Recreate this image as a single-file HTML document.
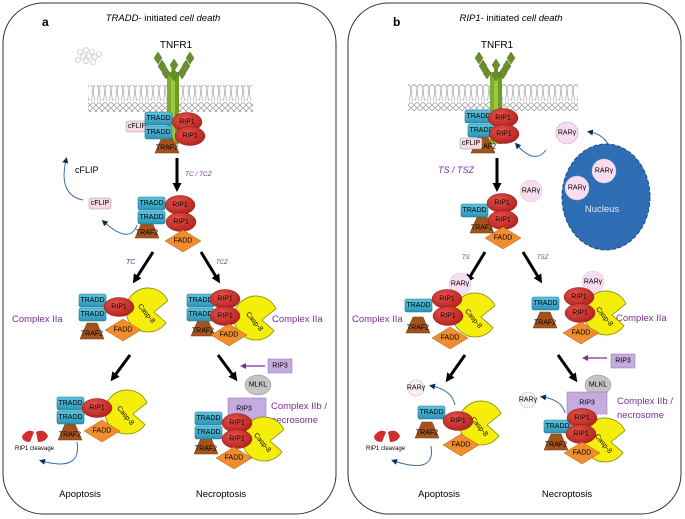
<!DOCTYPE html>
<html><head><meta charset="utf-8"><style>
html,body{margin:0;padding:0;background:#fff}
svg{display:block;font-family:"Liberation Sans",sans-serif}
.t{font-size:7px;text-anchor:middle;dominant-baseline:central}
.pu{fill:#7b2f93}
</style></head><body>
<svg width="685" height="519" viewBox="0 0 685 519" xmlns="http://www.w3.org/2000/svg">
<defs>
<linearGradient id="gT" x1="0" y1="0" x2="0" y2="1"><stop offset="0" stop-color="#5cc6e0"/><stop offset="1" stop-color="#2a94b8"/></linearGradient>
<radialGradient id="gR" cx=".4" cy=".35" r=".7"><stop offset="0" stop-color="#e8524a"/><stop offset="1" stop-color="#b0201c"/></radialGradient>
<pattern id="mem" width="6" height="27" patternUnits="userSpaceOnUse">
<circle cx="3" cy="3" r="2.3" fill="#fff" stroke="#777" stroke-width=".7"/>
<circle cx="3" cy="24" r="2.3" fill="#fff" stroke="#777" stroke-width=".7"/>
<path d="M2 6 L2.5 12 L1.5 20 M4 6 L3.5 12 L4.5 20" stroke="#999" stroke-width=".6" fill="none"/>
</pattern>
<g id="tradd"><rect x="0" y="0" width="27" height="13" rx="2" fill="url(#gT)" stroke="#1d7592" stroke-width=".6"/></g>
<g id="rip"><ellipse cx="0" cy="0" rx="15" ry="9.5" fill="url(#gR)" stroke="#8e1a16" stroke-width=".5"/></g>
<g id="traf"><path d="M-12 8 L12 8 L5 -8 L-5 -8 Z" fill="#a4531c" stroke="#6e3610" stroke-width=".5"/></g>
<g id="fadd"><path d="M-18 0 L0 -11 L18 0 L0 11 Z" fill="#f08d2c" stroke="#b0621a" stroke-width=".5"/></g>
<g id="casp"><path d="M6 2 L19.9 -9.3 A22 22 0 1 0 18 12.6 Z" fill="#f5ee0a" stroke="#8a8a10" stroke-width=".8"/></g>
<marker id="ah" markerUnits="userSpaceOnUse" markerWidth="9" markerHeight="9" refX="5" refY="4.5" orient="auto"><path d="M0 0 L9 4.5 L0 9 Z" fill="#000"/></marker>
<marker id="ap" markerUnits="userSpaceOnUse" markerWidth="6" markerHeight="6" refX="3" refY="3" orient="auto"><path d="M0 0 L6 3 L0 6 Z" fill="#7b2f93"/></marker>
<marker id="ab" markerUnits="userSpaceOnUse" markerWidth="6" markerHeight="6" refX="3" refY="3" orient="auto"><path d="M0 0 L6 3 L0 6 Z" fill="#0a2a55"/></marker>
</defs>

<!-- panels -->
<rect x="3" y="3" width="333" height="511" rx="40" fill="#fff" stroke="#333" stroke-width="1"/>
<rect x="348" y="3" width="333" height="511" rx="40" fill="#fff" stroke="#333" stroke-width="1"/>

<!-- ======== PANEL A ======== -->
<text x="42" y="26" font-size="12" font-weight="bold">a</text>
<text x="163" y="21" font-size="9.5" text-anchor="middle"><tspan font-style="italic">TRADD</tspan>- initiated <tspan font-style="italic">cell death</tspan></text>
<text x="176" y="48" font-size="10" text-anchor="middle">TNFR1</text>
<rect x="88" y="85" width="165" height="27" fill="url(#mem)"/>
<rect x="167" y="72" width="4" height="72" fill="#7fae2e"/><rect x="171" y="68" width="4" height="76" fill="#9bc83e"/><rect x="175" y="72" width="4" height="72" fill="#6f9c26"/>
<g fill="#6a8f2a" stroke="#3e5a16" stroke-width=".4">
<path d="M158 52 L162 58 L158 64 L154 58Z"/><path d="M162 60 L166 66 L162 72 L158 66Z"/><path d="M166 67 L170 73 L166 79 L162 73Z"/>
<path d="M190 52 L194 58 L190 64 L186 58Z"/><path d="M186 60 L190 66 L186 72 L182 66Z"/><path d="M182 67 L186 73 L182 79 L178 73Z"/>
<path d="M174 59 L178 65 L174 71 L170 65Z"/><path d="M174 69 L178 75 L174 81 L170 75Z"/>
</g>
<use href="#traf" x="167" y="145"/><text class="t" x="167" y="148" font-size="4.5">TRAF2</text>
<rect x="126" y="121" width="22" height="11" rx="2" fill="#f6d8e0" stroke="#999" stroke-width=".5"/><text class="t" x="137" y="126.5" font-size="6">cFLIP</text>
<use href="#tradd" x="145" y="112"/><text class="t" x="158.5" y="118.5">TRADD</text>
<use href="#tradd" x="145" y="126"/><text class="t" x="158.5" y="132.5">TRADD</text>
<use href="#rip" x="187" y="122"/><text class="t" x="187" y="122">RIP1</text>
<use href="#rip" x="190" y="136"/><text class="t" x="190" y="136">RIP1</text>
<line x1="177" y1="158" x2="177" y2="188" stroke="#000" stroke-width="3" marker-end="url(#ah)"/>
<text x="185" y="176" font-size="6.5" font-style="italic" class="pu">TC / TCZ</text>
<g fill="#fff" stroke="#bbb" stroke-width=".6">
<circle cx="80" cy="52" r="2.5"/><circle cx="86" cy="50" r="2.5"/><circle cx="92" cy="52" r="2.5"/><circle cx="83" cy="56" r="2.5"/><circle cx="89" cy="56" r="2.5"/><circle cx="95" cy="57" r="2.5"/><circle cx="78" cy="60" r="2.5"/><circle cx="86" cy="61" r="2.5"/><circle cx="93" cy="62" r="2.5"/><circle cx="99" cy="54" r="2.5"/></g>
<text x="75" y="173" font-size="9">cFLIP</text>
<path d="M83 200 Q58 195 66 160" stroke="#3a6fa8" fill="none" stroke-width="1" marker-end="url(#ab)"/>
<rect x="89" y="198" width="22" height="11" rx="2" fill="#f6d8e0" stroke="#999" stroke-width=".5"/><text class="t" x="100" y="203.5" font-size="6">cFLIP</text>
<path d="M137 225 Q130 245 104 222" stroke="#3a6fa8" fill="none" stroke-width="1" marker-end="url(#ab)"/>
<use href="#traf" x="147" y="230"/><text class="t" x="147" y="233" font-size="4.5">TRAF2</text>
<use href="#tradd" x="138" y="197"/><text class="t" x="151.5" y="203.5">TRADD</text>
<use href="#tradd" x="138" y="211"/><text class="t" x="151.5" y="217.5">TRADD</text>
<use href="#rip" x="180" y="205"/><text class="t" x="180" y="205">RIP1</text>
<use href="#rip" x="181" y="222"/><text class="t" x="181" y="222">RIP1</text>
<use href="#fadd" x="183" y="241"/><text class="t" x="183" y="241">FADD</text>
<line x1="153" y1="252" x2="135" y2="280" stroke="#000" stroke-width="3" marker-end="url(#ah)"/>
<line x1="201" y1="252" x2="218" y2="280" stroke="#000" stroke-width="3" marker-end="url(#ah)"/>
<text x="126" y="264" font-size="7" font-style="italic" class="pu">TC</text>
<text x="216" y="264" font-size="6" font-style="italic" class="pu">TCZ</text>
<text x="12" y="322" font-size="9.5" class="pu">Complex IIa</text>
<use href="#casp" x="148" y="310"/><text class="t" x="146" y="314" transform="rotate(50 146 314)">Casp-8</text>
<use href="#traf" x="92" y="331"/><text class="t" x="92" y="334" font-size="4.5">TRAF2</text>
<use href="#tradd" x="79" y="294"/><text class="t" x="92.5" y="300.5">TRADD</text>
<use href="#tradd" x="79" y="308"/><text class="t" x="92.5" y="314.5">TRADD</text>
<use href="#rip" x="119" y="307"/><text class="t" x="119" y="307">RIP1</text>
<use href="#fadd" x="123" y="330"/><text class="t" x="123" y="330">FADD</text>
<text x="272" y="322" font-size="9.5" class="pu">Complex IIa</text>
<use href="#casp" x="256" y="318"/><text class="t" x="254" y="322" transform="rotate(50 254 322)">Casp-8</text>
<use href="#traf" x="203" y="328"/><text class="t" x="203" y="331" font-size="4.5">TRAF2</text>
<use href="#tradd" x="187" y="294"/><text class="t" x="200.5" y="300.5">TRADD</text>
<use href="#tradd" x="187" y="308"/><text class="t" x="200.5" y="314.5">TRADD</text>
<use href="#rip" x="225" y="299"/><text class="t" x="225" y="299">RIP1</text>
<use href="#rip" x="225" y="316"/><text class="t" x="225" y="316">RIP1</text>
<use href="#fadd" x="229" y="335"/><text class="t" x="229" y="335">FADD</text>
<line x1="130" y1="355" x2="113" y2="378" stroke="#000" stroke-width="3" marker-end="url(#ah)"/>
<line x1="218" y1="355" x2="235" y2="378" stroke="#000" stroke-width="3" marker-end="url(#ah)"/>
<rect x="268" y="359" width="24" height="14" fill="#c6abe0" stroke="#8c6cae" stroke-width=".5"/><text class="t" x="280" y="366">RIP3</text>
<line x1="265" y1="366" x2="243" y2="366" stroke="#7b2f93" stroke-width="1.2" marker-end="url(#ap)"/>
<use href="#casp" x="127" y="412"/><text class="t" x="125" y="416" transform="rotate(50 125 416)">Casp-8</text>
<use href="#traf" x="70" y="432"/><text class="t" x="70" y="435" font-size="4.5">TRAF2</text>
<use href="#tradd" x="57" y="397"/><text class="t" x="70.5" y="403.5">TRADD</text>
<use href="#tradd" x="57" y="411"/><text class="t" x="70.5" y="417.5">TRADD</text>
<use href="#rip" x="97" y="408"/><text class="t" x="97" y="408">RIP1</text>
<use href="#fadd" x="102" y="431"/><text class="t" x="102" y="431">FADD</text>
<path d="M22 436 Q28 428 34 432 L30 442 Q22 442 22 436Z M36 432 Q44 428 48 436 Q46 442 38 442 Z" fill="#d0302c"/>
<text x="15" y="450" font-size="6">RIP1 cleavage</text>
<path d="M77 442 Q82 472 42 461" stroke="#3a6fa8" fill="none" stroke-width="1" marker-end="url(#ab)"/>
<ellipse cx="258" cy="385" rx="13" ry="10" fill="#c4c4c4" stroke="#888" stroke-width=".5"/><text class="t" x="258" y="385">MLKL</text>
<rect x="228" y="398" width="38" height="22" fill="#c6abe0" stroke="#8c6cae" stroke-width=".5"/><text class="t" x="244" y="409">RIP3</text>
<text x="271" y="409" font-size="9.5" class="pu">Complex IIb /</text>
<text x="271" y="423" font-size="9.5" class="pu">necrosome</text>
<use href="#casp" x="264" y="439"/><text class="t" x="262" y="443" transform="rotate(50 262 443)">Casp-8</text>
<use href="#traf" x="206" y="446"/><text class="t" x="206" y="449" font-size="4.5">TRAF2</text>
<use href="#tradd" x="195" y="412"/><text class="t" x="208.5" y="418.5">TRADD</text>
<use href="#tradd" x="195" y="426"/><text class="t" x="208.5" y="432.5">TRADD</text>
<use href="#rip" x="237" y="423"/><text class="t" x="237" y="423">RIP1</text>
<use href="#rip" x="237" y="439"/><text class="t" x="237" y="439">RIP1</text>
<use href="#fadd" x="234" y="458"/><text class="t" x="234" y="458">FADD</text>
<text x="80" y="497" font-size="9.5" text-anchor="middle">Apoptosis</text>
<text x="221" y="497" font-size="9.5" text-anchor="middle">Necroptosis</text>

<!-- ======== PANEL B ======== -->
<text x="393" y="26" font-size="12" font-weight="bold">b</text>
<text x="511" y="21" font-size="9.5" text-anchor="middle"><tspan font-style="italic">RIP1</tspan>- initiated <tspan font-style="italic">cell death</tspan></text>
<text x="497" y="48" font-size="10" text-anchor="middle">TNFR1</text>
<rect x="408" y="84" width="170" height="27" fill="url(#mem)"/>
<rect x="490" y="72" width="4" height="72" fill="#7fae2e"/><rect x="494" y="68" width="4" height="76" fill="#9bc83e"/><rect x="498" y="72" width="4" height="72" fill="#6f9c26"/>
<g fill="#6a8f2a" stroke="#3e5a16" stroke-width=".4">
<path d="M479 52 L483 58 L479 64 L475 58Z"/><path d="M483 60 L487 66 L483 72 L479 66Z"/><path d="M487 67 L491 73 L487 79 L483 73Z"/>
<path d="M511 52 L515 58 L511 64 L507 58Z"/><path d="M507 60 L511 66 L507 72 L503 66Z"/><path d="M503 67 L507 73 L503 79 L499 73Z"/>
<path d="M496 59 L500 65 L496 71 L492 65Z"/><path d="M496 69 L500 75 L496 81 L492 75Z"/>
</g>
<use href="#traf" x="483" y="145"/><text class="t" x="485" y="147" font-size="4.5">TRAF2</text>
<rect x="460" y="138" width="22" height="11" rx="2" fill="#f6d8e0" stroke="#999" stroke-width=".5"/><text class="t" x="471" y="143.5" font-size="6">cFLIP</text>
<use href="#tradd" x="465" y="110"/><text class="t" x="478.5" y="116.5">TRADD</text>
<use href="#tradd" x="468" y="124"/><text class="t" x="481.5" y="130.5">TRADD</text>
<use href="#rip" x="503" y="118"/><text class="t" x="503" y="118">RIP1</text>
<use href="#rip" x="504" y="134"/><text class="t" x="504" y="134">RIP1</text>
<circle cx="567" cy="133" r="11" fill="#f8dcf0" stroke="#999" stroke-dasharray="2 1" stroke-width=".6"/><text class="t" x="567" y="133" font-size="6">RARγ</text>
<path d="M546 150 Q535 165 517 145" stroke="#3a6fa8" fill="none" stroke-width="1" marker-end="url(#ab)"/>
<path d="M612 155 Q608 135 590 132" stroke="#3a6fa8" fill="none" stroke-width="1" marker-end="url(#ab)"/>
<ellipse cx="606" cy="197" rx="44" ry="53" fill="#2f6db5" stroke="#1c4a85" stroke-dasharray="4 2" stroke-width="1"/>
<circle cx="604" cy="171" r="12" fill="#f8dcf0" stroke="#ccc" stroke-width=".5"/><text class="t" x="604" y="171" font-size="6">RARγ</text>
<circle cx="577" cy="188" r="12" fill="#f8dcf0" stroke="#ccc" stroke-width=".5"/><text class="t" x="577" y="188" font-size="6">RARγ</text>
<text x="602" y="212" font-size="9.5" fill="#dfe9f7" text-anchor="middle">Nucleus</text>
<line x1="497" y1="158" x2="497" y2="188" stroke="#000" stroke-width="3" marker-end="url(#ah)"/>
<text x="438" y="173" font-size="9" font-style="italic" class="pu">TS / TSZ</text>
<circle cx="531" cy="191" r="11" fill="#f8dcf0" stroke="#ccc" stroke-width=".5"/><text class="t" x="531" y="191" font-size="6">RARγ</text>
<use href="#traf" x="482" y="225"/><text class="t" x="482" y="228" font-size="4.5">TRAF2</text>
<use href="#tradd" x="461" y="204"/><text class="t" x="474.5" y="210.5">TRADD</text>
<use href="#rip" x="502" y="203"/><text class="t" x="502" y="203">RIP1</text>
<use href="#rip" x="503" y="220"/><text class="t" x="503" y="220">RIP1</text>
<use href="#fadd" x="503" y="238"/><text class="t" x="503" y="238">FADD</text>
<line x1="485" y1="252" x2="468" y2="280" stroke="#000" stroke-width="3" marker-end="url(#ah)"/>
<line x1="523" y1="252" x2="540" y2="280" stroke="#000" stroke-width="3" marker-end="url(#ah)"/>
<text x="462" y="259" font-size="6" font-style="italic" class="pu">TS</text>
<text x="537" y="259" font-size="6" font-style="italic" class="pu">TSZ</text>
<text x="352" y="322" font-size="9.5" class="pu">Complex IIa</text>
<use href="#casp" x="475" y="315"/><text class="t" x="473" y="319" transform="rotate(50 473 319)">Casp-8</text>
<use href="#traf" x="418" y="325"/><text class="t" x="418" y="328" font-size="4.5">TRAF2</text>
<use href="#tradd" x="405" y="299"/><text class="t" x="418.5" y="305.5">TRADD</text>
<circle cx="460" cy="284" r="11" fill="#f8dcf0" stroke="#ccc" stroke-width=".5"/><text class="t" x="460" y="284" font-size="6">RARγ</text>
<use href="#rip" x="447" y="299"/><text class="t" x="447" y="299">RIP1</text>
<use href="#rip" x="448" y="316"/><text class="t" x="448" y="316">RIP1</text>
<use href="#fadd" x="450" y="338"/><text class="t" x="450" y="338">FADD</text>
<text x="616" y="321" font-size="9.5" class="pu">Complex IIa</text>
<use href="#casp" x="606" y="313"/><text class="t" x="604" y="317" transform="rotate(50 604 317)">Casp-8</text>
<use href="#traf" x="545" y="320"/><text class="t" x="545" y="323" font-size="4.5">TRAF2</text>
<use href="#tradd" x="532" y="297"/><text class="t" x="545.5" y="303.5">TRADD</text>
<circle cx="593" cy="282" r="11" fill="#f8dcf0" stroke="#ccc" stroke-width=".5"/><text class="t" x="593" y="282" font-size="6">RARγ</text>
<use href="#rip" x="579" y="297"/><text class="t" x="579" y="297">RIP1</text>
<use href="#rip" x="580" y="313"/><text class="t" x="580" y="313">RIP1</text>
<use href="#fadd" x="581" y="333"/><text class="t" x="581" y="333">FADD</text>
<line x1="465" y1="355" x2="448" y2="379" stroke="#000" stroke-width="3" marker-end="url(#ah)"/>
<line x1="558" y1="355" x2="575" y2="379" stroke="#000" stroke-width="3" marker-end="url(#ah)"/>
<rect x="611" y="354" width="24" height="14" fill="#c6abe0" stroke="#8c6cae" stroke-width=".5"/><text class="t" x="623" y="361">RIP3</text>
<line x1="607" y1="358" x2="585" y2="358" stroke="#7b2f93" stroke-width="1.2" marker-end="url(#ap)"/>
<circle cx="416" cy="388" r="8" fill="#fdf0f8" stroke="#999" stroke-dasharray="1.5 1" stroke-width=".6"/><text class="t" x="416" y="388" font-size="5">RARγ</text>
<path d="M455 405 Q452 390 432 386" stroke="#3a6fa8" fill="none" stroke-width="1" marker-end="url(#ab)"/>
<use href="#casp" x="481" y="423"/><text class="t" x="479" y="427" transform="rotate(50 479 427)">Casp-8</text>
<use href="#traf" x="427" y="430"/><text class="t" x="427" y="433" font-size="4.5">TRAF2</text>
<use href="#tradd" x="418" y="406"/><text class="t" x="431.5" y="412.5">TRADD</text>
<use href="#rip" x="458" y="421"/><text class="t" x="458" y="421">RIP1</text>
<use href="#fadd" x="461" y="445"/><text class="t" x="461" y="445">FADD</text>
<path d="M374 436 Q380 428 386 432 L382 442 Q374 442 374 436Z M388 432 Q396 428 400 436 Q398 442 390 442 Z" fill="#d0302c"/>
<text x="366" y="450" font-size="6">RIP1 cleavage</text>
<path d="M431 446 Q436 475 394 461" stroke="#3a6fa8" fill="none" stroke-width="1" marker-end="url(#ab)"/>
<ellipse cx="598" cy="385" rx="13" ry="10" fill="#c4c4c4" stroke="#888" stroke-width=".5"/><text class="t" x="598" y="385">MLKL</text>
<rect x="567" y="392" width="40" height="22" fill="#c6abe0" stroke="#8c6cae" stroke-width=".5"/><text class="t" x="587" y="403">RIP3</text>
<text x="617" y="404" font-size="9.5" class="pu">Complex IIb /</text>
<text x="617" y="418" font-size="9.5" class="pu">necrosome</text>
<circle cx="528" cy="400" r="8" fill="#fdf0f8" stroke="#999" stroke-dasharray="1.5 1" stroke-width=".6"/><text class="t" x="528" y="400" font-size="5">RARγ</text>
<path d="M565 413 Q562 400 543 397" stroke="#3a6fa8" fill="none" stroke-width="1" marker-end="url(#ab)"/>
<use href="#casp" x="605" y="440"/><text class="t" x="603" y="444" transform="rotate(50 603 444)">Casp-8</text>
<use href="#traf" x="556" y="442"/><text class="t" x="556" y="445" font-size="4.5">TRAF2</text>
<use href="#tradd" x="544" y="420"/><text class="t" x="557.5" y="426.5">TRADD</text>
<use href="#rip" x="582" y="418"/><text class="t" x="582" y="418">RIP1</text>
<use href="#rip" x="581" y="434"/><text class="t" x="581" y="434">RIP1</text>
<use href="#fadd" x="582" y="453"/><text class="t" x="582" y="453">FADD</text>
<text x="439" y="497" font-size="9.5" text-anchor="middle">Apoptosis</text>
<text x="567" y="497" font-size="9.5" text-anchor="middle">Necroptosis</text>
</svg>
</body></html>
